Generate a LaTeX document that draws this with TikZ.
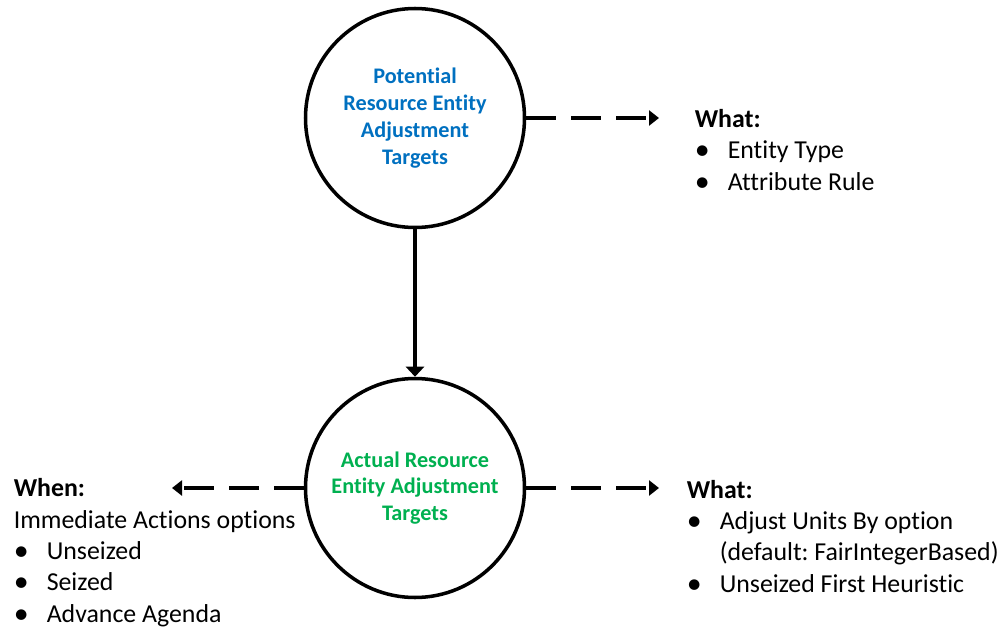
\documentclass[tikz,border=0pt]{standalone}
\usepackage{fontspec}
\setmainfont{Carlito}[Ligatures=NoCommon]
\usepackage{xcolor}
\usetikzlibrary{arrows.meta,positioning,calc}
\definecolor{TargetBlue}{HTML}{0070C0}
\definecolor{TargetGreen}{HTML}{00B050}
\newcommand{\itm}[1]{\makebox[0.66cm][l]{\raisebox{-0.6pt}{\fontsize{17}{17}\selectfont\textbullet}}#1}
\frenchspacing

\begin{document}
\begin{tikzpicture}[line width=2pt,
  target/.style={circle,draw,minimum size=4.38cm,inner sep=0pt,align=center,
    font=\bfseries\fontsize{12.65}{15.3}\selectfont},
  info/.style={align=left,inner sep=0pt,anchor=base west,
    font=\fontsize{14.7}{17.8}\selectfont},
  link/.style={dash pattern=on 0.6cm off 0.3cm,-{Triangle[length=0.2cm,width=0.3cm]}}]
 \useasboundingbox (0,0) rectangle (20.06,12.6);
 \node[target,text=TargetBlue] (pot) at (8.3,10.24) {Potential\\Resource Entity\\Adjustment\\Targets};
 \node[target,text=TargetGreen] (act) at (8.3,2.84) {Actual Resource\\Entity Adjustment\\Targets};
 \draw[-{Triangle[length=0.2cm,width=0.36cm]}] (pot) -- (act);
 \coordinate (potR) at (13.18,10.24);
 \coordinate (actL) at (3.44,2.84);
 \coordinate (actR) at (13.18,2.84);
 \draw[link] (pot.east) -- (potR);
 \draw[link] (act.west) -- (actL);
 \draw[link] (act.east) -- (actR);
 \node[info] (potWhat) at (13.86,8.80) {\textbf{What:}\\\itm{Entity Type}\\\itm{Attribute Rule}};
 \node[info] (actWhen) at (0.24,0.16) {\textbf{When:}\\Immediate Actions options\\\itm{Unseized}\\\itm{Seized}\\\itm{Advance Agenda}};
 \node[info] (actWhat) at (13.70,0.76) {\textbf{What:}\\\itm{Adjust Units By option}\\\hspace*{0.66cm}(default: FairIntegerBased)\\\itm{Unseized First Heuristic}};
\end{tikzpicture}
\end{document}
